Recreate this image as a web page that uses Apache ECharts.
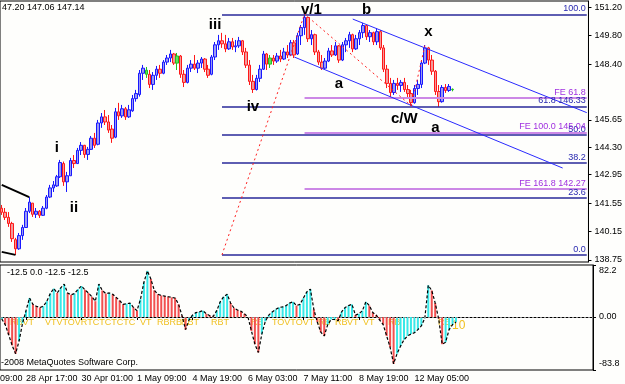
<!DOCTYPE html>
<html><head><meta charset="utf-8">
<script src="https://cdn.jsdelivr.net/npm/echarts@6/dist/echarts.min.js"></script>
<style>html,body{margin:0;padding:0;background:#fefefc}#c{width:625px;height:384px}</style>
</head><body><div id="c"></div>
<script>
// ---------- data ----------
const opens  = [141.30,141.10,140.85,140.55,139.75,139.30,139.95,140.35,141.15,141.55,141.00,141.15,140.95,141.30,141.85,142.30,142.40,142.85,143.50,142.60,142.90,143.65,143.50,144.15,144.40,143.95,144.20,144.75,144.45,145.50,145.80,145.55,145.20,144.80,146.05,145.85,146.20,145.80,146.10,146.70,146.90,147.95,148.10,147.90,147.40,147.85,148.15,147.95,148.50,148.70,148.90,148.45,148.80,147.90,147.50,148.20,148.40,148.20,148.45,148.65,148.15,147.90,148.75,149.35,149.55,149.40,149.15,149.50,149.25,149.30,149.55,149.00,148.35,147.55,147.15,147.70,148.15,148.90,148.40,148.70,148.55,148.80,148.65,149.00,148.85,149.45,148.90,149.80,150.20,150.70,149.65,149.85,149.00,148.50,148.20,148.55,149.05,148.85,149.30,148.60,149.35,149.55,149.85,149.15,149.65,149.95,150.30,149.75,149.95,149.50,150.00,149.20,148.15,147.45,147.00,147.45,147.35,147.50,147.15,146.95,146.50,147.20,147.40,148.45,149.20,148.60,148.05,147.05,146.55,147.25,147.10,147.16];
const highs  = [141.46,141.31,141.11,140.63,139.84,140.08,140.48,141.31,141.85,141.56,141.31,141.21,141.41,141.95,142.45,142.64,142.94,143.68,143.60,143.09,143.78,143.92,144.27,144.56,144.42,144.32,144.86,145.01,145.65,145.99,146.14,145.89,145.40,146.24,146.49,146.39,146.29,146.39,146.88,147.13,148.11,148.36,148.26,148.11,148.01,148.31,148.36,148.60,148.85,149.10,148.95,148.95,148.85,148.11,148.36,148.60,148.85,148.60,148.75,148.70,148.36,148.85,149.49,149.84,149.94,149.84,149.69,149.69,149.59,149.74,149.59,149.20,148.60,147.87,147.87,148.36,149.05,148.95,148.85,148.85,148.95,149.10,149.20,149.34,149.59,149.59,149.94,150.33,150.87,150.75,150.08,149.90,149.10,148.85,148.70,149.20,149.34,149.49,149.34,149.49,149.69,149.99,149.90,149.84,150.08,150.43,150.33,150.08,150.00,150.18,150.08,149.34,148.36,147.72,147.62,147.72,147.62,147.72,147.37,147.13,147.37,147.62,148.60,149.34,149.25,148.85,148.11,147.37,147.37,147.42,147.42,147.20];
const lows   = [140.97,140.72,140.38,139.64,139.00,139.25,139.74,140.33,141.06,140.87,140.82,140.82,140.92,141.25,141.80,142.10,142.35,142.79,142.40,142.10,142.90,143.28,143.50,143.92,143.78,143.68,144.17,144.27,144.40,145.26,145.40,145.01,144.52,144.75,145.65,145.75,145.65,145.75,146.05,146.55,146.80,147.62,147.72,147.22,147.13,147.62,147.72,147.90,148.36,148.50,148.36,148.11,147.72,147.27,147.45,148.01,148.11,147.96,148.21,148.01,147.72,147.85,148.60,149.10,149.20,148.99,149.10,149.10,148.99,149.20,148.85,148.21,147.37,146.98,147.10,147.52,148.11,148.11,148.21,148.36,148.46,148.50,148.60,148.70,148.80,148.70,148.85,149.34,149.84,149.49,149.34,148.85,148.36,148.11,148.15,148.50,148.75,148.80,148.46,148.55,148.99,149.20,148.99,149.10,149.34,149.69,149.59,149.49,149.34,149.34,149.10,148.01,147.22,146.73,146.88,147.13,147.03,147.03,146.78,146.34,146.45,146.88,147.22,148.40,148.36,147.87,146.88,146.29,146.50,146.98,147.03,147.06];
const closes = [141.10,140.85,140.55,139.80,139.30,139.95,140.35,141.15,141.60,141.00,141.15,140.95,141.30,141.85,142.30,142.45,142.85,143.55,142.60,142.90,143.65,143.50,144.15,144.40,143.95,144.20,144.75,144.40,145.50,145.80,145.55,145.15,144.75,146.05,145.85,146.20,145.80,146.15,146.70,146.95,147.95,148.20,147.90,147.40,147.85,148.15,147.95,148.50,148.70,148.90,148.45,148.80,147.90,147.50,148.20,148.40,148.20,148.45,148.65,148.15,147.85,148.75,149.35,149.55,149.40,149.15,149.50,149.25,149.30,149.55,149.00,148.35,147.55,147.15,147.70,148.15,148.90,148.40,148.70,148.55,148.80,148.65,149.00,148.85,149.45,148.85,149.80,150.20,150.70,149.65,149.85,149.00,148.50,148.20,148.55,149.05,148.85,149.30,148.60,149.35,149.55,149.85,149.15,149.65,149.95,150.30,149.75,149.95,149.50,150.00,149.20,148.15,147.45,147.00,147.45,147.35,147.50,147.15,146.95,146.50,147.20,147.40,148.45,149.20,148.60,148.05,147.05,146.55,147.25,147.10,147.30,147.14];
const greenBars = [42, 51, 78, 131];
const osc = [-3,-12,-28,-45,-58,-38,-10,10,30,20,17,15,17,25,37,45,38,46,52,38,35,37,44,49,43,38,32,25,52,42,37,38,36,31,26,20,21,22,15,10,28,55,73,60,42,36,34,33,32,31,30,20,2,-20,-5,3,7,8,10,5,2,1,10,24,32,36,22,14,11,9,5,0,-22,-43,-56,-27,-7,3,8,12,15,16,18,22,24,18,20,30,40,44,12,-8,-24,-30,-12,-4,-4,-6,8,15,18,20,3,5,10,24,18,7,3,-5,-12,-30,-48,-74,-58,-46,-36,-30,-27,-25,-20,-14,-2,50,42,22,-3,-43,-40,-20,-12,-8];
const timeLabels = ['28 Apr 17:00','30 Apr 01:00','1 May 09:00','4 May 19:00','6 May 03:00','7 May 11:00','8 May 19:00','12 May 05:00'];
const priceTicks = [151.20,149.80,148.40,145.65,144.30,142.95,141.55,140.15,138.75];
const oscTicks = [82.2, 0, -83.8];
const fibLevels = [150.85,146.32,144.93,143.53,141.80,139.00];
const fibNames  = ['100.0','61.8 146.33','50.0','38.2','23.6','0.0'];
const feLevels = [146.75,145.04,142.27];
const feNames  = ['FE 61.8','FE 100.0 145.04','FE 161.8 142.27'];
const waveNames = ['i','ii','iii','iv','v/1','a','b','x','c/W','a'];
const waveAt    = [[16,144.27],[21,141.31],[62,150.33],[73,146.29],[90,151.07],[98,147.42],[106,151.07],[124,149.98],[117,145.70],[126,145.25]];
const channelLines = [[[102,150.62],[170,146.01]],[[85,148.75],[163,143.28]]];
const dottedLines  = [[[64,139.00],[88,150.87]],[[88,150.87],[119,146.34]],[[119,146.34],[123,149.34]]];
const blackLines   = [[[0,142.45],[8,141.85]],[[0,139.15],[4,139.00]]];
const markers = [['RBVT',10],['VTVTOVRTCTCTCTC',45],['VT',140],['RBRBT',157],['RBT',181],['RBT',211],['RB',251],['TOVTOVT',272],['RB',318],['RB',335],['VT',347],['VT',363],['RB',388],['RB',438]];
const lastPrice = 147.14;

// ---------- build ----------
const N = 171;
const cats = Array.from({length:N},(_,i)=>String(i));
const FONT = 'Liberation Sans, Arial, sans-serif';
const candle = opens.map((o,i)=>{
  const d = {value:[o, closes[i], lows[i], highs[i]]};
  if (greenBars.includes(i)) d.itemStyle = {color:'#60e060',color0:'#60e060',borderColor:'#20c020',borderColor0:'#20c020'};
  return d;
});
const labelIdx = i => i >= 7 && (i-7) % 16 === 0 && (i-7)/16 < timeLabels.length;

const ml = [];
fibLevels.forEach((v,k)=>ml.push([{coord:[64,v],lineStyle:{color:'#28289a',width:1.5,type:'solid'},
  label:{show:true,position:'insideEndTop',formatter:fibNames[k],color:'#2828b0',fontSize:9,fontFamily:FONT,distance:1}},{coord:[170,v]}]));
feLevels.forEach((v,k)=>ml.push([{coord:[88,v],lineStyle:{color:'#cc88e6',width:2,type:'solid'},
  label:{show:true,position:'insideEndTop',formatter:feNames[k],color:'#a030e0',fontSize:9,fontFamily:FONT,distance:1}},{coord:[170,v]}]));
channelLines.forEach(l=>ml.push([{coord:l[0],lineStyle:{color:'#2a2aff',width:1,type:'solid'},label:{show:false}},{coord:l[1]}]));
dottedLines.forEach(l=>ml.push([{coord:l[0],lineStyle:{color:'#ff2020',width:1,type:[2,3]},label:{show:false}},{coord:l[1]}]));
blackLines.forEach(l=>ml.push([{coord:l[0],lineStyle:{color:'#000',width:2,type:'solid'},label:{show:false}},{coord:l[1]}]));
ml.push({yAxis:lastPrice,lineStyle:{opacity:0},label:{show:true,position:'end',formatter:lastPrice.toFixed(2),
  backgroundColor:'#000',color:'#fff',fontSize:9,fontFamily:FONT,padding:[2,2,1,2],distance:4}});

const mp = waveNames.map((n,k)=>({coord:waveAt[k],symbol:'circle',symbolSize:0,
  label:{show:true,position:'inside',formatter:n,color:'#000',fontSize:15,fontWeight:'bold',fontFamily:FONT}}));

const oscBars = osc.map((v,i)=>({value:v,itemStyle:{color:(i>0 && v<osc[i-1])?'#f25050':'#38e8e8'}}));

const graphics = [
  {type:'text',left:2,top:3,style:{text:'47.20 147.06 147.14',fill:'#000',font:'9px '+FONT}},
  {type:'text',left:7,top:268,style:{text:'-12.5 0.0 -12.5 -12.5',fill:'#000',font:'9px '+FONT}},
  {type:'text',left:1,top:358,style:{text:'-2008 MetaQuotes Software Corp.',fill:'#000',font:'9px '+FONT}},
  {type:'text',left:0,top:374,style:{text:'09:00',fill:'#000',font:'9px '+FONT}},
  {type:'text',left:448,top:320,style:{text:'-10',fill:'#f0c020',font:'12px '+FONT}}
];
markers.forEach(m=>graphics.push({type:'text',left:m[1],top:318,style:{text:m[0],fill:'#f0c020',font:'9px '+FONT}}));

const chart = echarts.init(document.getElementById('c'),null,{renderer:'canvas'});
chart.setOption({
  animation:false,
  backgroundColor:'#fefefc',
  grid:[
    {left:0,right:32,top:1,height:261,show:true,borderColor:'#000',borderWidth:1},
    {left:0,right:32,top:265,height:105,show:true,borderColor:'#000',borderWidth:1}
  ],
  xAxis:[
    {gridIndex:0,type:'category',data:cats,boundaryGap:true,axisLabel:{show:false},axisTick:{show:false},axisLine:{show:false},splitLine:{show:false}},
    {gridIndex:1,type:'category',data:cats,boundaryGap:true,
      axisLine:{show:true,lineStyle:{color:'#000'}},
      axisTick:{show:true,alignWithLabel:true,length:3,interval:(i)=>labelIdx(i),lineStyle:{color:'#000'}},
      axisLabel:{show:true,interval:(i)=>labelIdx(i),align:'left',margin:4,fontSize:9,fontFamily:FONT,color:'#000',
        formatter:(v,i)=>labelIdx(i)?timeLabels[(i-7)/16]:''},
      splitLine:{show:false}}
  ],
  yAxis:[
    {gridIndex:0,type:'value',position:'right',min:138.65,max:151.51,splitLine:{show:false},
      axisLine:{show:true,lineStyle:{color:'#000'}},
      axisTick:{show:true,length:3,customValues:priceTicks,lineStyle:{color:'#000'}},
      axisLabel:{customValues:priceTicks,formatter:v=>v.toFixed(2),fontSize:9,fontFamily:FONT,color:'#000',margin:6}},
    {gridIndex:1,type:'value',position:'right',min:-83.8,max:82.2,splitLine:{show:false},
      axisLine:{show:true,lineStyle:{color:'#000'}},
      axisTick:{show:true,length:3,customValues:oscTicks,lineStyle:{color:'#000'}},
      axisLabel:{customValues:oscTicks,fontSize:9,fontFamily:FONT,color:'#000',margin:6,
        formatter:v=> v===0?'0.00':(v>0?'{t|'+v.toFixed(1)+'}':'{b|'+v.toFixed(1)+'}'),
        rich:{t:{padding:[12,0,0,0],fontSize:9,fontFamily:FONT,color:'#000'},b:{padding:[0,0,12,0],fontSize:9,fontFamily:FONT,color:'#000'}}}}
  ],
  series:[
    {type:'candlestick',xAxisIndex:0,yAxisIndex:0,data:candle,barWidth:3,
      itemStyle:{color:'#9a9af2',color0:'#f29a9a',borderColor:'#1818ff',borderColor0:'#ff1818',borderWidth:1},
      markLine:{symbol:['none','none'],silent:true,data:ml},
      markPoint:{silent:true,data:mp}},
    {type:'bar',xAxisIndex:1,yAxisIndex:1,data:oscBars,barWidth:2},
    {type:'line',xAxisIndex:1,yAxisIndex:1,data:osc,symbol:'none',lineStyle:{color:'#000',width:1.2,type:[3,2]},
      markLine:{symbol:['none','none'],silent:true,label:{show:false},lineStyle:{color:'#888',type:[2,2],width:1},data:[{yAxis:0}]}}
  ],
  graphic:graphics
});
</script></body></html>
